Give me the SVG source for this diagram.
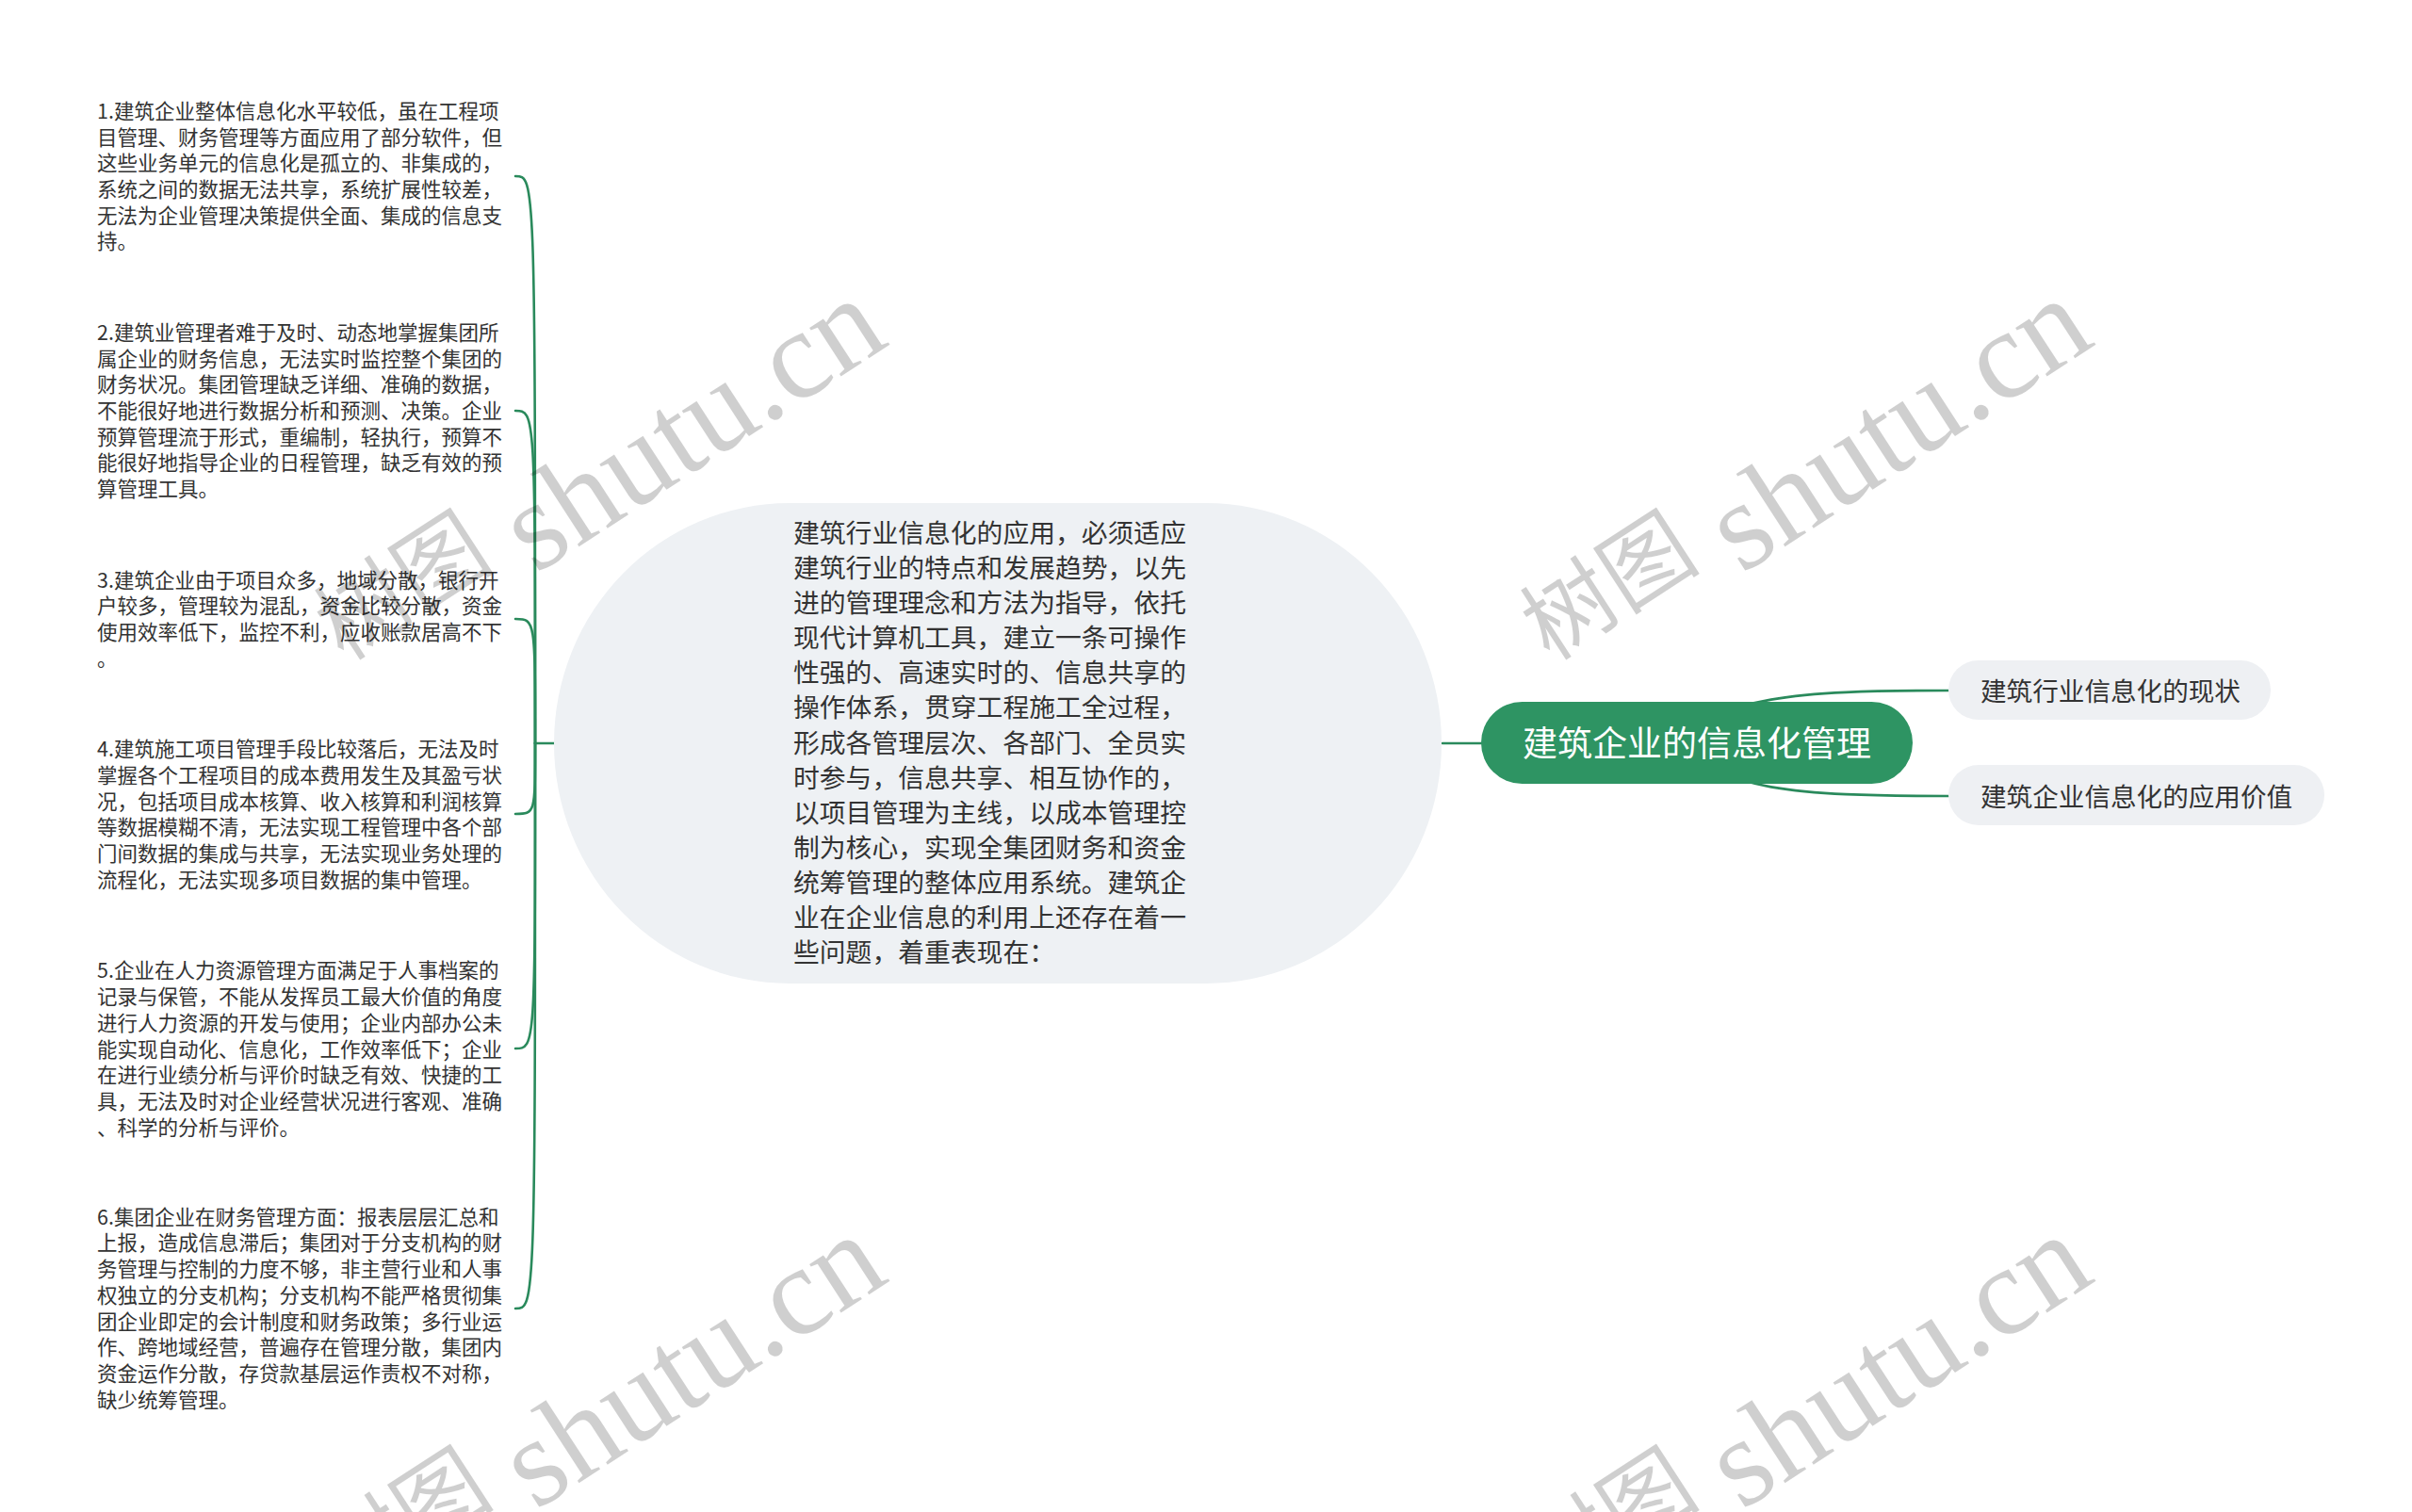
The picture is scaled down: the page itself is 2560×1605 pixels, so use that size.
<svg xmlns="http://www.w3.org/2000/svg" width="2560" height="1605" viewBox="0 0 2560 1605">
<style>
.lt{font-family:"Noto Sans CJK SC","Noto Sans",sans-serif;font-size:21.5px;fill:#333333}
.ct{font-family:"Noto Sans CJK SC","Noto Sans",sans-serif;font-size:27.8px;fill:#333333}
.st{font-family:"Noto Sans CJK SC","Noto Sans",sans-serif;font-size:27.6px;fill:#333333}
.rt{font-family:"Noto Sans CJK SC","Noto Sans",sans-serif;font-size:37px;fill:#ffffff}
.conn{fill:none;stroke:#2a8a5c;stroke-width:2.6;stroke-linecap:round}
.wm{font-family:"Liberation Serif","Noto Sans CJK SC",serif;font-size:134px;fill:#000000;fill-opacity:0.19}
.wc{font-family:"Noto Sans CJK SC",serif;font-size:96px;fill:#000000;fill-opacity:0.19}
</style>
<rect width="2560" height="1605" fill="#ffffff"/>
<g id="connectors">
<path class="conn" d="M1780,789 C1830,740 1900,733 2068,733"/>
<path class="conn" d="M1780,789 C1830,838 1900,845 2068,845"/>
<path class="conn" d="M1531,789 H1572"/>
<path class="conn" d="M589,789 H568"/>
<path class="conn" d="M568,789 C568,187 568,187 547,187"/>
<path class="conn" d="M568,789 C568,436 568,436 547,436"/>
<path class="conn" d="M568,789 C568,657 568,657 547,657"/>
<path class="conn" d="M568,789 C568,864 568,864 547,864"/>
<path class="conn" d="M568,789 C568,1113 568,1113 547,1113"/>
<path class="conn" d="M568,789 C568,1389 568,1389 547,1389"/>
</g>
<g id="center">
<rect x="588" y="534" width="942" height="510" rx="250" ry="255" fill="#eef1f4"/>
<text class="ct" x="842">
<tspan x="842" y="575.6">建筑行业信息化的应用，必须适应</tspan>
<tspan x="842" y="612.8">建筑行业的特点和发展趋势，以先</tspan>
<tspan x="842" y="649.9">进的管理理念和方法为指导，依托</tspan>
<tspan x="842" y="687.1">现代计算机工具，建立一条可操作</tspan>
<tspan x="842" y="724.2">性强的、高速实时的、信息共享的</tspan>
<tspan x="842" y="761.4">操作体系，贯穿工程施工全过程，</tspan>
<tspan x="842" y="798.5">形成各管理层次、各部门、全员实</tspan>
<tspan x="842" y="835.7">时参与，信息共享、相互协作的，</tspan>
<tspan x="842" y="872.8">以项目管理为主线，以成本管理控</tspan>
<tspan x="842" y="910.0">制为核心，实现全集团财务和资金</tspan>
<tspan x="842" y="947.1">统筹管理的整体应用系统。建筑企</tspan>
<tspan x="842" y="984.3">业在企业信息的利用上还存在着一</tspan>
<tspan x="842" y="1021.4">些问题，着重表现在：</tspan>
</text>
</g>
<g id="root">
<rect x="1572" y="745" width="458" height="87" rx="43.5" fill="#2e9463"/>
<text class="rt" x="1801" y="802.5" text-anchor="middle">建筑企业的信息化管理</text>
</g>
<g id="sub1">
<rect x="2068" y="701" width="342" height="63" rx="31.5" fill="#eef0f3"/>
<text class="st" x="2102" y="743.5">建筑行业信息化的现状</text>
</g>
<g id="sub2">
<rect x="2068" y="812" width="399" height="64" rx="32" fill="#eef0f3"/>
<text class="st" x="2102" y="855.5">建筑企业信息化的应用价值</text>
</g>
<g id="item1">
<text class="lt">
<tspan x="103" y="125.8">1.建筑企业整体信息化水平较低，虽在工程项</tspan>
<tspan x="103" y="153.5">目管理、财务管理等方面应用了部分软件，但</tspan>
<tspan x="103" y="181.2">这些业务单元的信息化是孤立的、非集成的，</tspan>
<tspan x="103" y="208.9">系统之间的数据无法共享，系统扩展性较差，</tspan>
<tspan x="103" y="236.6">无法为企业管理决策提供全面、集成的信息支</tspan>
<tspan x="103" y="264.3">持。</tspan>
</text>
</g>
<g id="item2">
<text class="lt">
<tspan x="103" y="360.9">2.建筑业管理者难于及时、动态地掌握集团所</tspan>
<tspan x="103" y="388.6">属企业的财务信息，无法实时监控整个集团的</tspan>
<tspan x="103" y="416.3">财务状况。集团管理缺乏详细、准确的数据，</tspan>
<tspan x="103" y="444.0">不能很好地进行数据分析和预测、决策。企业</tspan>
<tspan x="103" y="471.7">预算管理流于形式，重编制，轻执行，预算不</tspan>
<tspan x="103" y="499.4">能很好地指导企业的日程管理，缺乏有效的预</tspan>
<tspan x="103" y="527.1">算管理工具。</tspan>
</text>
</g>
<g id="item3">
<text class="lt">
<tspan x="103" y="623.7">3.建筑企业由于项目众多，地域分散，银行开</tspan>
<tspan x="103" y="651.4">户较多，管理较为混乱，资金比较分散，资金</tspan>
<tspan x="103" y="679.1">使用效率低下，监控不利，应收账款居高不下</tspan>
<tspan x="103" y="706.8">。</tspan>
</text>
</g>
<g id="item4">
<text class="lt">
<tspan x="103" y="803.3">4.建筑施工项目管理手段比较落后，无法及时</tspan>
<tspan x="103" y="831.0">掌握各个工程项目的成本费用发生及其盈亏状</tspan>
<tspan x="103" y="858.7">况，包括项目成本核算、收入核算和利润核算</tspan>
<tspan x="103" y="886.4">等数据模糊不清，无法实现工程管理中各个部</tspan>
<tspan x="103" y="914.1">门间数据的集成与共享，无法实现业务处理的</tspan>
<tspan x="103" y="941.8">流程化，无法实现多项目数据的集中管理。</tspan>
</text>
</g>
<g id="item5">
<text class="lt">
<tspan x="103" y="1038.4">5.企业在人力资源管理方面满足于人事档案的</tspan>
<tspan x="103" y="1066.1">记录与保管，不能从发挥员工最大价值的角度</tspan>
<tspan x="103" y="1093.8">进行人力资源的开发与使用；企业内部办公未</tspan>
<tspan x="103" y="1121.5">能实现自动化、信息化，工作效率低下；企业</tspan>
<tspan x="103" y="1149.2">在进行业绩分析与评价时缺乏有效、快捷的工</tspan>
<tspan x="103" y="1176.9">具，无法及时对企业经营状况进行客观、准确</tspan>
<tspan x="103" y="1204.6">、科学的分析与评价。</tspan>
</text>
</g>
<g id="item6">
<text class="lt">
<tspan x="103" y="1299.7">6.集团企业在财务管理方面：报表层层汇总和</tspan>
<tspan x="103" y="1327.4">上报，造成信息滞后；集团对于分支机构的财</tspan>
<tspan x="103" y="1355.1">务管理与控制的力度不够，非主营行业和人事</tspan>
<tspan x="103" y="1382.8">权独立的分支机构；分支机构不能严格贯彻集</tspan>
<tspan x="103" y="1410.5">团企业即定的会计制度和财务政策；多行业运</tspan>
<tspan x="103" y="1438.2">作、跨地域经营，普遍存在管理分散，集团内</tspan>
<tspan x="103" y="1465.9">资金运作分散，存贷款基层运作责权不对称，</tspan>
<tspan x="103" y="1493.6">缺少统筹管理。</tspan>
</text>
</g>
<g id="watermarks">
<g transform="translate(316,774) rotate(-33)"><text class="wc" x="80" y="-33">树图</text><text class="wm" x="301">shutu.cn</text></g>
<g transform="translate(1596,774) rotate(-33)"><text class="wc" x="80" y="-33">树图</text><text class="wm" x="301">shutu.cn</text></g>
<g transform="translate(316,1768) rotate(-33)"><text class="wc" x="80" y="-33">树图</text><text class="wm" x="301">shutu.cn</text></g>
<g transform="translate(1596,1768) rotate(-33)"><text class="wc" x="80" y="-33">树图</text><text class="wm" x="301">shutu.cn</text></g>
</g>
</svg>
